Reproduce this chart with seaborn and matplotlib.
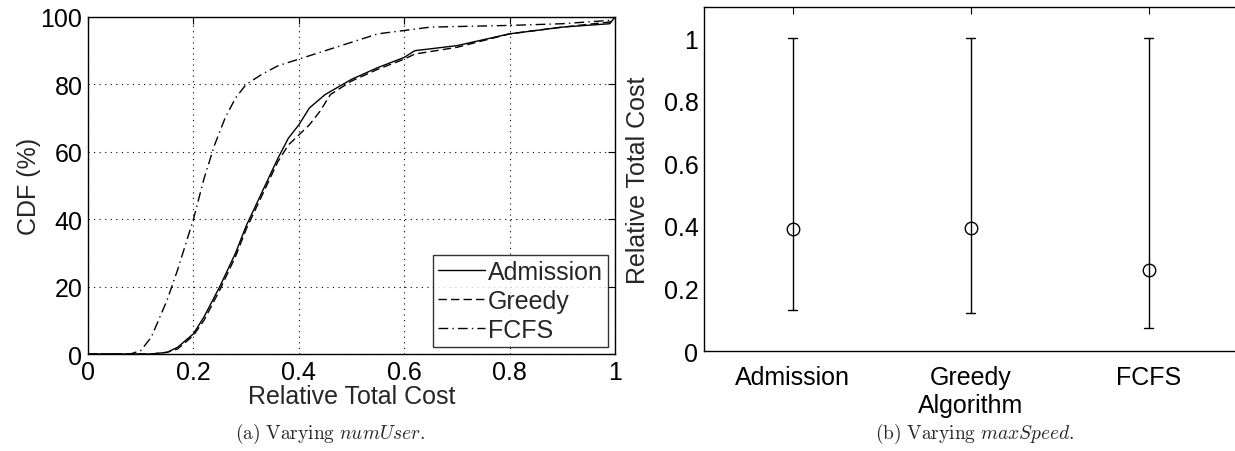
import numpy as np
import pandas as pd
import matplotlib
matplotlib.use("Agg")
import matplotlib.pyplot as plt
import seaborn as sns

# CDF curves
adm_x = [0.0, 0.12, 0.15, 0.17, 0.20, 0.22, 0.25, 0.28, 0.30, 0.33, 0.36, 0.38, 0.40, 0.42,
         0.45, 0.50, 0.55, 0.60, 0.62, 0.70, 0.80, 0.90, 0.99, 1.0]
adm_y = [0, 0, 0.5, 2, 6, 11, 20, 30, 38, 48, 58, 64, 68, 73,
         77, 81.5, 85, 88, 90, 91.5, 95, 97, 98, 100]
gre_x = [0.0, 0.12, 0.15, 0.17, 0.20, 0.22, 0.25, 0.28, 0.30, 0.33, 0.36, 0.38, 0.40, 0.42,
         0.44, 0.46, 0.50, 0.55, 0.60, 0.62, 0.70, 0.80, 0.90, 0.99, 1.0]
gre_y = [0, 0, 0.5, 1.5, 5.5, 10, 19, 29, 37, 47, 57, 62, 65, 68,
         72, 77, 81, 84.5, 87.5, 89, 91, 95, 97, 98.5, 100]
fcfs_x = [0.0, 0.08, 0.10, 0.12, 0.15, 0.17, 0.19, 0.20, 0.22, 0.24, 0.26, 0.28, 0.30, 0.33,
          0.36, 0.40, 0.45, 0.50, 0.55, 0.60, 0.65, 0.80, 0.90, 0.99, 1.0]
fcfs_y = [0, 0, 1, 5, 16, 25, 35, 40, 52, 62, 70, 76, 80, 83,
          85.5, 87.5, 90, 92.5, 95, 96, 97, 97.5, 98, 99, 100]

# panel (b): mean with min / max
algos = ["Admission", "Greedy\nAlgorithm", "FCFS"]
cost_mean = [0.39, 0.392, 0.26]
cost_low = [0.13, 0.12, 0.075]
cost_high = [1.0, 1.0, 1.0]

sns.set_style("white")
plt.rcParams["font.family"] = ["Liberation Sans", "DejaVu Sans"]
plt.rcParams["mathtext.fontset"] = "cm"
FS = 18

fig = plt.figure(figsize=(12.35, 4.52), dpi=100)
ax1 = fig.add_axes([0.0713, 0.2146, 0.4267, 0.7456])
ax2 = fig.add_axes([0.570, 0.2212, 0.432, 0.761])

cdf = pd.concat([
    pd.DataFrame({"x": adm_x, "y": adm_y, "alg": "Admission"}),
    pd.DataFrame({"x": gre_x, "y": gre_y, "alg": "Greedy"}),
    pd.DataFrame({"x": fcfs_x, "y": fcfs_y, "alg": "FCFS"}),
])
styles = {"Admission": "-", "Greedy": (0, (6, 3)), "FCFS": (0, (7, 3, 1, 3))}
for name, grp in cdf.groupby("alg", sort=False):
    sns.lineplot(data=grp, x="x", y="y", ax=ax1, color="black", lw=1.0,
                 linestyle=styles[name], label=name, sort=False)

ax1.set_xlim(0, 1)
ax1.set_ylim(0, 100)
ax1.set_xticks([0, 0.2, 0.4, 0.6, 0.8, 1])
ax1.set_xticklabels(["0", "0.2", "0.4", "0.6", "0.8", "1"])
ax1.set_yticks([0, 20, 40, 60, 80, 100])
ax1.grid(True, color="black", linestyle=(0, (1, 4)), lw=0.8)
ax1.set_xlabel("Relative Total Cost", fontsize=FS, labelpad=0)
ax1.set_ylabel("CDF (%)", fontsize=FS, labelpad=0)
leg = ax1.legend(loc="lower right", fontsize=FS, frameon=True, fancybox=False,
                 edgecolor="black", borderaxespad=0.3, handlelength=1.9,
                 handletextpad=0.1, borderpad=0.2, labelspacing=0.2)
leg.get_frame().set_linewidth(1.0)

# panel (b) via pointplot: median of [low, mean, high] is the mean, range is the bar
rows = []
for a, m, lo, hi in zip(algos, cost_mean, cost_low, cost_high):
    for v in (lo, m, hi):
        rows.append({"alg": a, "cost": v})
pts = pd.DataFrame(rows)
sns.pointplot(data=pts, x="alg", y="cost", ax=ax2, estimator="median",
              errorbar=lambda v: (v.min(), v.max()), linestyle="none",
              color="black", markers="o", markersize=9, markerfacecolor="none",
              markeredgewidth=1.0, capsize=0.05, err_kws={"linewidth": 1.0})
ax2.set_xlim(-0.5, 2.5)
ax2.set_ylim(0, 1.1)
ax2.set_yticks([0, 0.2, 0.4, 0.6, 0.8, 1])
ax2.set_yticklabels(["0", "0.2", "0.4", "0.6", "0.8", "1"])
ax2.set_xlabel("")
ax2.set_ylabel("Relative Total Cost", fontsize=FS, labelpad=10)
ax2.spines["right"].set_visible(False)

for ax in (ax1, ax2):
    ax.tick_params(direction="in", top=True, right=True, length=5, width=0.8,
                   labelsize=FS, colors="black", pad=4)
    for s in ax.spines.values():
        s.set_color("black")
        s.set_linewidth(1.0)
ax2.tick_params(axis="x", pad=10)
ax2.tick_params(axis="y", right=False)

fig.text(0.267, 0.03, r"$\mathrm{(a)\ Varying\ }numUser.$", fontsize=14, ha="center")
fig.text(0.789, 0.03, r"$\mathrm{(b)\ Varying\ }maxSpeed.$", fontsize=14, ha="center")

fig.savefig("out.png", dpi=100)
